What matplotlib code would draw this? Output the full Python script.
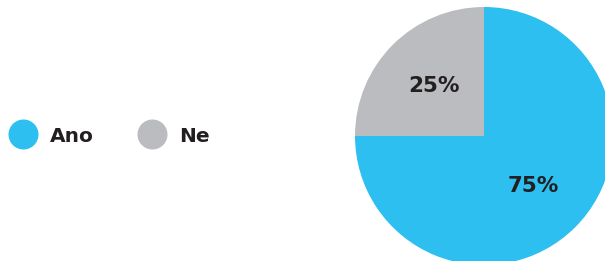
import matplotlib
matplotlib.use("Agg")
import matplotlib.pyplot as plt
from matplotlib.lines import Line2D

labels = ["Ano", "Ne"]
values = [75, 25]
colors = ["#2CBFF0", "#BBBCC0"]
text_color = "#231F20"

plt.rcParams['font.family'] = ['DejaVu Sans']

W, H = 605, 261
fig = plt.figure(figsize=(W / 100, H / 100), dpi=100)

cx, cy, r = 484, 136, 129
ax = fig.add_axes([(cx - r) / W, (H - cy - r) / H, 2 * r / W, 2 * r / H])
wedges, texts, autotexts = ax.pie(
    values, colors=colors, startangle=90, counterclock=False, radius=1,
    autopct=lambda p: f"{p:.0f}%", pctdistance=0.545,
    textprops=dict(color=text_color, fontsize=15.5, fontweight='bold'),
    wedgeprops=dict(linewidth=0))
ax.set_xlim(-1, 1)
ax.set_ylim(-1, 1)
ax.set_aspect('equal')
ax.axis('off')

fs = 14.5
px_per_fs = fs * 100 / 72
handles = [Line2D([], [], linestyle='none', marker='o', markersize=30 * 72 / 100,
                  markerfacecolor=c, markeredgewidth=0) for c in colors]
fig.legend(handles, labels, loc='center left', bbox_to_anchor=(8 / W, 1 - 136 / H),
           ncol=2, frameon=False, borderpad=0, borderaxespad=0,
           handlelength=30 / px_per_fs, handletextpad=12 / px_per_fs,
           columnspacing=43 / px_per_fs,
           prop=dict(size=fs, weight='bold'), labelcolor=text_color)

fig.savefig("out.png", dpi=100)
